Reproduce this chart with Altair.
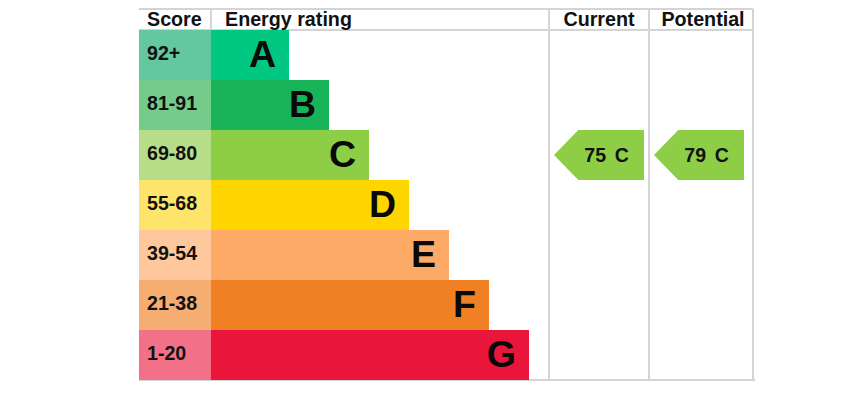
import altair as alt
import pandas as pd

# ---- data ----
ratings = ["A", "B", "C", "D", "E", "F", "G"]
score_ranges = ["92+", "81-91", "69-80", "55-68", "39-54", "21-38", "1-20"]
bar_lengths = [78, 118, 158, 198, 238, 278, 318]   # length of each rating bar
bar_colors = ["#00c781", "#19b459", "#8dce46", "#ffd500", "#fcaa65", "#ef8023", "#e9153b"]
score_colors = ["#63c7a0", "#75cb8a", "#b6de88", "#fee46b", "#fec89c", "#f5ad72", "#f27189"]
headers = ["Score", "Energy rating", "Current", "Potential"]
current_score, current_band = 75, "C"
potential_score, potential_band = 79, "C"

# ---- layout (table units: x in px from table left, y in row units) ----
HEAD = 0.42
SCORE_W = 72
CUR_X0, POT_X0, RIGHT = 410, 510, 614
FONT = "Liberation Sans"

rows = pd.DataFrame({
    "rating": ratings,
    "score": score_ranges,
    "bar": bar_lengths,
    "bar_color": bar_colors,
    "score_color": score_colors,
})
rows["i"] = range(len(rows))
rows["top"] = HEAD + rows["i"]
rows["bottom"] = rows["top"] + 1
rows["mid"] = rows["top"] + 0.5
rows["x0"] = SCORE_W
rows["x1"] = SCORE_W + rows["bar"]
rows["zero"] = 0

xs = alt.Scale(domain=[0, RIGHT], nice=False, zero=False)
ys = alt.Scale(domain=[0, HEAD + 7], reverse=True, nice=False, zero=False)
X = lambda f: alt.X(f, type="quantitative", scale=xs, axis=None)
Y = lambda f: alt.Y(f, type="quantitative", scale=ys, axis=None)

bottom_y = HEAD + 7
grid = pd.DataFrame({
    "x": [0, 0, 0, SCORE_W, CUR_X0, POT_X0, RIGHT],
    "x2": [RIGHT, RIGHT, RIGHT + 2, SCORE_W, CUR_X0, POT_X0, RIGHT],
    "y": [0, HEAD, bottom_y, 0, 0, 0, 0],
    "y2": [0, HEAD, bottom_y, HEAD, bottom_y, bottom_y, bottom_y],
})
rules = alt.Chart(grid).mark_rule(color="#d4d4d4", strokeWidth=2).encode(
    x=X("x"), x2="x2", y=Y("y"), y2="y2")

score_cells = alt.Chart(rows).mark_rect().encode(
    x=X("zero"), x2=alt.X2("x0"), y=Y("top"), y2=alt.Y2("bottom"),
    color=alt.Color("score_color:N", scale=None))
bars = alt.Chart(rows).mark_rect().encode(
    x=X("x0"), x2=alt.X2("x1"), y=Y("top"), y2=alt.Y2("bottom"),
    color=alt.Color("bar_color:N", scale=None))

score_text = alt.Chart(rows).mark_text(
    align="left", baseline="alphabetic", dx=8, dy=5, font=FONT,
    fontSize=19.6, fontWeight="bold", color="#111111").encode(
    x=X("zero"), y=Y("mid"), text="score:N")
letters = alt.Chart(rows).mark_text(
    align="right", baseline="alphabetic", dx=-13, dy=12, font=FONT,
    fontSize=37.5, fontWeight="bold", color="#0a0a0a").encode(
    x=X("x1"), y=Y("mid"), text="rating:N")

head_df = pd.DataFrame({
    "label": headers,
    "x": [8, SCORE_W + 14, (CUR_X0 + POT_X0) / 2, (POT_X0 + RIGHT) / 2 + 2],
    "align": ["left", "left", "center", "center"],
})
head_df["y"] = 0.335
head_left = alt.Chart(head_df[head_df["align"] == "left"]).mark_text(
    align="left", baseline="alphabetic", font=FONT, fontSize=19.7,
    fontWeight="bold", color="#111111").encode(x=X("x"), y=Y("y"), text="label:N")
head_center = alt.Chart(head_df[head_df["align"] == "center"]).mark_text(
    align="center", baseline="alphabetic", font=FONT, fontSize=19.7,
    fontWeight="bold", color="#111111").encode(x=X("x"), y=Y("y"), text="label:N")

band_index = {r: i for i, r in enumerate(ratings)}
arrows = pd.DataFrame({
    "x": [CUR_X0 + 50, POT_X0 + 50],
    "band": [current_band, potential_band],
    "label": [f"{current_score}\u00a0\u2006{current_band}",
              f"{potential_score}\u00a0\u2006{potential_band}"],
})
arrows["y"] = [HEAD + band_index[b] + 0.5 for b in arrows["band"]]
arrows["color"] = [bar_colors[band_index[b]] for b in arrows["band"]]

arrow_path = "M-1,0 L-0.46,-0.5556 L1,-0.5556 L1,0.5556 L-0.46,0.5556 Z"
arrow_marks = alt.Chart(arrows).mark_point(
    shape=arrow_path, filled=True, size=8100, opacity=1, strokeWidth=0).encode(
    x=X("x"), y=Y("y"), color=alt.Color("color:N", scale=None))
arrow_text = alt.Chart(arrows).mark_text(
    align="center", baseline="alphabetic", dx=7.5, dy=6.5, font=FONT,
    fontSize=19.5, fontWeight="bold", color="#111111").encode(
    x=X("x"), y=Y("y"), text="label:N")

chart = alt.layer(
    rules, score_cells, bars, score_text, letters, head_left, head_center,
    arrow_marks, arrow_text
).properties(
    width=RIGHT, height=371,
    autosize=alt.AutoSizeParams(type="none"),
    padding={"left": 131, "right": 101, "top": 1, "bottom": 21},
).configure_view(stroke=None)

chart.save("out.html", embed_options={"renderer": "svg", "actions": False})
